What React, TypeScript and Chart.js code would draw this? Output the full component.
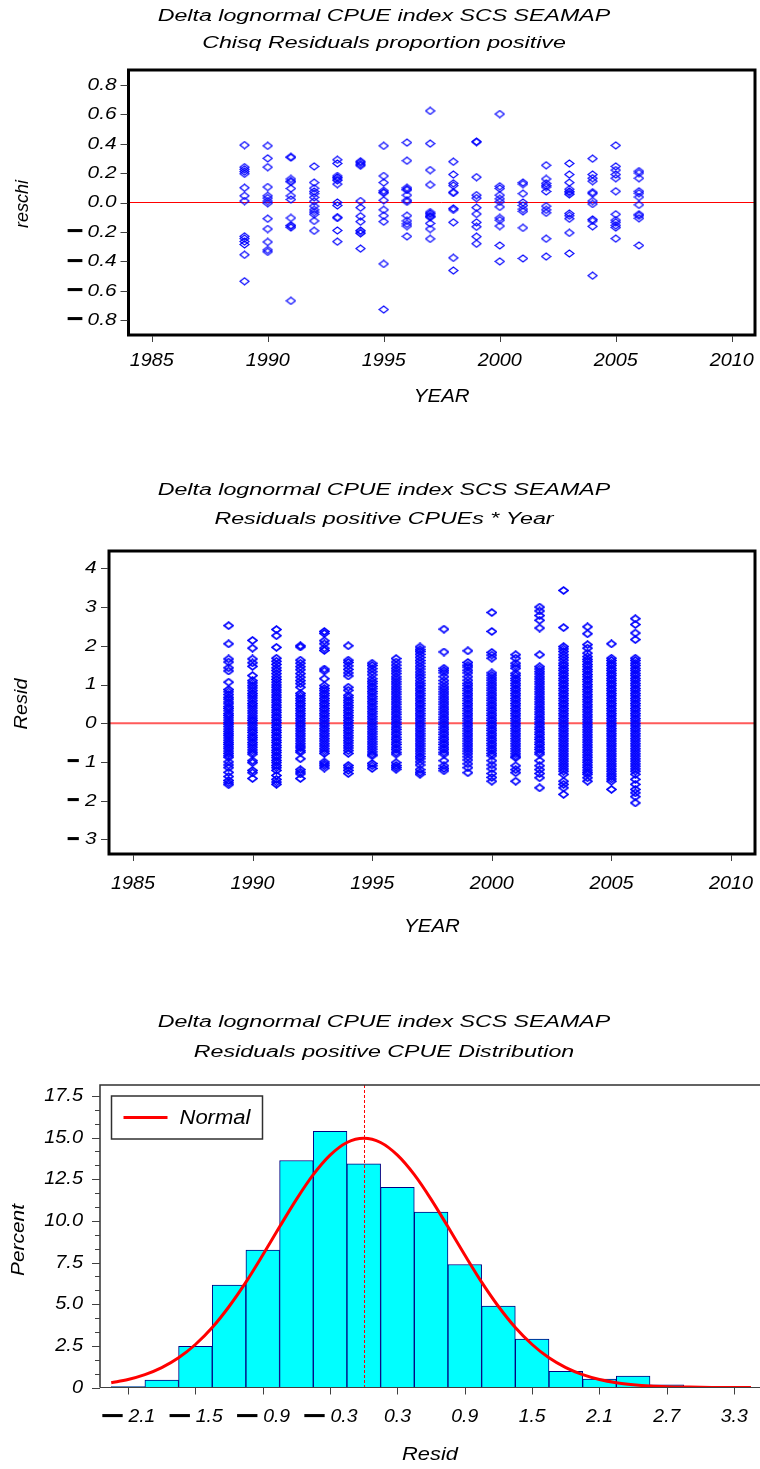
import React, { useEffect, useRef } from "react";
import { Chart, registerables } from "chart.js";

Chart.register(...registerables);

const FONT = '"Liberation Sans", Arial, Helvetica, sans-serif';
const MINUS = "\u2212";

// ---------------- DATA ----------------
const years = [1989, 1990, 1991, 1992, 1993, 1994, 1995, 1996, 1997, 1998, 1999, 2000, 2001, 2002, 2003, 2004, 2005, 2006];
const yearTicks = [1985, 1990, 1995, 2000, 2005, 2010];

// Chisq residuals, proportion positive (one array per year)
const chisq1989 = [0.39, 0.24, 0.225, 0.21, 0.195, 0.1, 0.045, 0.01, -0.23, -0.245, -0.265, -0.285, -0.355, -0.535];
const chisq1990 = [0.385, 0.3, 0.24, 0.105, 0.045, 0.03, 0.01, -0.005, -0.11, -0.18, -0.268, -0.322, -0.335];
const chisq1991 = [0.31, 0.305, 0.16, 0.145, 0.14, 0.095, 0.045, 0.02, -0.105, -0.155, -0.16, -0.17, -0.668];
const chisq1992 = [0.245, 0.135, 0.097, 0.075, 0.06, 0.035, 0.008, -0.025, -0.05, -0.065, -0.08, -0.125, -0.192];
const chisq1993 = [0.29, 0.265, 0.18, 0.17, 0.16, 0.15, 0.125, 0.0, -0.02, -0.1, -0.105, -0.19, -0.266];
const chisq1994 = [0.28, 0.27, 0.26, 0.25, 0.01, -0.035, -0.093, -0.13, -0.19, -0.2, -0.21, -0.313];
const chisq1995 = [0.385, 0.18, 0.135, 0.08, 0.07, 0.065, 0.015, -0.05, -0.09, -0.13, -0.417, -0.727];
const chisq1996 = [0.407, 0.284, 0.1, 0.09, 0.085, 0.05, 0.015, 0.005, -0.09, -0.125, -0.145, -0.16, -0.23];
const chisq1997 = [0.622, 0.4, 0.22, 0.12, -0.065, -0.075, -0.085, -0.095, -0.1, -0.142, -0.18, -0.247];
const chisq1998 = [0.277, 0.19, 0.13, 0.115, 0.07, 0.065, -0.04, -0.05, -0.135, -0.376, -0.462];
const chisq1999 = [0.414, 0.41, 0.172, 0.05, 0.03, -0.035, -0.078, -0.135, -0.165, -0.232, -0.28];
const chisq2000 = [0.601, 0.11, 0.095, 0.05, 0.025, 0.005, -0.03, -0.105, -0.12, -0.16, -0.292, -0.4];
const chisq2001 = [0.135, 0.125, 0.06, 0.0, -0.02, -0.045, -0.06, -0.172, -0.38];
const chisq2002 = [0.253, 0.16, 0.13, 0.115, 0.105, 0.075, -0.025, -0.05, -0.07, -0.246, -0.367];
const chisq2003 = [0.265, 0.19, 0.135, 0.09, 0.075, 0.065, 0.055, -0.075, -0.09, -0.11, -0.206, -0.346];
const chisq2004 = [0.298, 0.19, 0.165, 0.145, 0.07, 0.06, 0.01, -0.01, -0.115, -0.125, -0.162, -0.497];
const chisq2005 = [0.388, 0.245, 0.22, 0.19, 0.165, 0.076, -0.08, -0.12, -0.135, -0.155, -0.17, -0.245];
const chisq2006 = [0.213, 0.2, 0.165, 0.076, 0.063, 0.037, -0.016, -0.08, -0.09, -0.107, -0.292];
const chisqColumns = [chisq1989, chisq1990, chisq1991, chisq1992, chisq1993, chisq1994, chisq1995, chisq1996, chisq1997,
  chisq1998, chisq1999, chisq2000, chisq2001, chisq2002, chisq2003, chisq2004, chisq2005, chisq2006];
const chisqTicks = [-0.8, -0.6, -0.4, -0.2, 0, 0.2, 0.4, 0.6, 0.8];

// Residuals of positive CPUEs (one array per year)
const resid1989 = [2.52, 2.05, 1.66, 1.58, 1.43, 1.35, 1.06, 0.87, 0.81, 0.74, 0.67, 0.62, 0.55, 0.5, 0.43, 0.38, 0.32, 0.25, 0.2, 0.14, 0.08, 0.02, -0.03, -0.09, -0.15, -0.21, -0.27, -0.32, -0.38, -0.44, -0.5, -0.55, -0.61, -0.66, -0.72, -0.78, -0.84, -0.88, -1.0, -1.08, -1.15, -1.27, -1.38, -1.48, -1.54, -1.59];
const resid1990 = [2.14, 1.94, 1.66, 1.56, 1.47, 1.23, 1.1, 1.04, 0.97, 0.91, 0.84, 0.77, 0.71, 0.65, 0.58, 0.51, 0.45, 0.39, 0.32, 0.26, 0.19, 0.13, 0.07, 0.01, -0.05, -0.12, -0.18, -0.24, -0.31, -0.37, -0.43, -0.5, -0.56, -0.62, -0.69, -0.75, -0.8, -0.97, -1.02, -1.22, -1.28, -1.43];
const resid1991 = [2.42, 2.26, 1.96, 1.68, 1.6, 1.52, 1.43, 1.36, 1.28, 1.2, 1.13, 1.06, 0.99, 0.93, 0.86, 0.8, 0.73, 0.67, 0.6, 0.54, 0.47, 0.41, 0.34, 0.28, 0.21, 0.15, 0.08, 0.02, -0.05, -0.11, -0.18, -0.24, -0.31, -0.37, -0.44, -0.5, -0.57, -0.63, -0.7, -0.76, -0.83, -0.89, -0.96, -1.02, -1.09, -1.15, -1.22, -1.35, -1.45, -1.52, -1.58];
const resid1992 = [2.0, 1.97, 1.63, 1.55, 1.46, 1.38, 1.28, 1.19, 1.1, 1.02, 0.93, 0.77, 0.71, 0.64, 0.58, 0.51, 0.45, 0.38, 0.32, 0.25, 0.19, 0.12, 0.06, -0.01, -0.07, -0.14, -0.2, -0.27, -0.33, -0.4, -0.46, -0.53, -0.59, -0.64, -0.71, -0.75, -0.92, -1.2, -1.26, -1.31, -1.43];
const resid1993 = [2.37, 2.32, 2.13, 2.05, 1.94, 1.88, 1.4, 1.35, 1.15, 0.97, 0.9, 0.84, 0.77, 0.71, 0.64, 0.58, 0.51, 0.45, 0.38, 0.32, 0.25, 0.19, 0.12, 0.06, -0.01, -0.07, -0.14, -0.2, -0.27, -0.33, -0.4, -0.46, -0.53, -0.59, -0.66, -0.72, -0.78, -1.0, -1.05, -1.1, -1.16];
const resid1994 = [2.0, 1.63, 1.57, 1.48, 1.39, 1.3, 1.22, 0.93, 0.85, 0.72, 0.66, 0.59, 0.53, 0.46, 0.4, 0.33, 0.27, 0.2, 0.14, 0.07, 0.01, -0.06, -0.12, -0.19, -0.25, -0.32, -0.38, -0.45, -0.51, -0.58, -0.64, -0.71, -0.78, -1.09, -1.15, -1.22, -1.3];
const resid1995 = [1.55, 1.49, 1.41, 1.33, 1.25, 1.15, 1.08, 1.02, 0.95, 0.89, 0.82, 0.76, 0.69, 0.63, 0.56, 0.5, 0.43, 0.37, 0.3, 0.24, 0.17, 0.11, 0.04, -0.02, -0.09, -0.15, -0.22, -0.28, -0.35, -0.41, -0.48, -0.54, -0.61, -0.67, -0.74, -0.8, -0.84, -1.04, -1.1, -1.17];
const resid1996 = [1.67, 1.58, 1.5, 1.42, 1.35, 1.28, 1.2, 1.14, 1.07, 1.01, 0.94, 0.88, 0.81, 0.75, 0.68, 0.62, 0.55, 0.49, 0.42, 0.36, 0.29, 0.23, 0.16, 0.1, 0.03, -0.03, -0.1, -0.16, -0.23, -0.29, -0.36, -0.42, -0.49, -0.55, -0.62, -0.68, -0.75, -0.8, -1.02, -1.09, -1.14, -1.19];
const resid1997 = [1.97, 1.9, 1.85, 1.78, 1.7, 1.62, 1.55, 1.47, 1.4, 1.32, 1.25, 1.18, 1.1, 1.03, 0.97, 0.9, 0.84, 0.77, 0.71, 0.64, 0.58, 0.51, 0.45, 0.38, 0.32, 0.25, 0.19, 0.12, 0.06, -0.01, -0.07, -0.14, -0.2, -0.27, -0.33, -0.4, -0.46, -0.53, -0.59, -0.66, -0.72, -0.79, -0.86, -0.92, -1.0, -1.08, -1.2, -1.27, -1.32];
const resid1998 = [2.43, 1.84, 1.42, 1.36, 1.3, 1.2, 1.1, 1.02, 0.94, 0.88, 0.81, 0.75, 0.68, 0.62, 0.55, 0.49, 0.42, 0.36, 0.29, 0.23, 0.16, 0.1, 0.03, -0.03, -0.1, -0.16, -0.23, -0.29, -0.36, -0.42, -0.49, -0.55, -0.62, -0.68, -0.75, -0.8, -0.97, -1.1, -1.17, -1.23];
const resid1999 = [1.87, 1.57, 1.5, 1.45, 1.37, 1.3, 1.2, 1.11, 1.03, 0.97, 0.9, 0.84, 0.77, 0.71, 0.64, 0.58, 0.51, 0.45, 0.38, 0.32, 0.25, 0.19, 0.12, 0.06, -0.01, -0.07, -0.14, -0.2, -0.27, -0.33, -0.4, -0.46, -0.53, -0.59, -0.66, -0.72, -0.79, -0.87, -0.95, -1.05, -1.15, -1.28];
const resid2000 = [2.86, 2.37, 1.83, 1.76, 1.68, 1.3, 1.24, 1.17, 1.11, 1.04, 0.98, 0.91, 0.85, 0.78, 0.72, 0.65, 0.59, 0.52, 0.46, 0.39, 0.33, 0.26, 0.2, 0.13, 0.07, 0.0, -0.06, -0.13, -0.19, -0.26, -0.32, -0.39, -0.45, -0.52, -0.58, -0.65, -0.71, -0.78, -0.84, -0.97, -1.08, -1.18, -1.3, -1.4, -1.5];
const resid2001 = [1.77, 1.68, 1.55, 1.48, 1.42, 1.29, 1.23, 1.16, 1.1, 1.03, 0.97, 0.9, 0.84, 0.77, 0.71, 0.64, 0.58, 0.51, 0.45, 0.38, 0.32, 0.25, 0.19, 0.12, 0.06, -0.01, -0.07, -0.14, -0.2, -0.27, -0.33, -0.4, -0.46, -0.53, -0.59, -0.66, -0.72, -0.79, -0.85, -0.89, -1.1, -1.2, -1.28, -1.5];
const resid2002 = [3.0, 2.9, 2.78, 2.66, 2.46, 1.77, 1.46, 1.4, 1.33, 1.27, 1.2, 1.14, 1.07, 1.01, 0.94, 0.88, 0.81, 0.75, 0.68, 0.62, 0.55, 0.49, 0.42, 0.36, 0.29, 0.23, 0.16, 0.1, 0.03, -0.03, -0.1, -0.16, -0.23, -0.29, -0.36, -0.42, -0.49, -0.55, -0.62, -0.68, -0.75, -0.8, -0.97, -1.1, -1.2, -1.3, -1.41, -1.67];
const resid2003 = [3.43, 2.47, 1.98, 1.92, 1.85, 1.77, 1.7, 1.63, 1.55, 1.49, 1.42, 1.36, 1.29, 1.23, 1.16, 1.1, 1.03, 0.97, 0.9, 0.84, 0.77, 0.71, 0.64, 0.58, 0.51, 0.45, 0.38, 0.32, 0.25, 0.19, 0.12, 0.06, -0.01, -0.07, -0.14, -0.2, -0.27, -0.33, -0.4, -0.46, -0.53, -0.59, -0.66, -0.72, -0.79, -0.85, -0.92, -0.98, -1.05, -1.11, -1.18, -1.24, -1.32, -1.5, -1.58, -1.67, -1.84];
const resid2004 = [2.49, 2.31, 2.03, 1.94, 1.81, 1.72, 1.65, 1.59, 1.52, 1.46, 1.39, 1.33, 1.26, 1.2, 1.13, 1.07, 1.0, 0.94, 0.87, 0.81, 0.74, 0.68, 0.61, 0.55, 0.48, 0.42, 0.35, 0.29, 0.22, 0.16, 0.09, 0.03, -0.04, -0.1, -0.17, -0.23, -0.3, -0.36, -0.43, -0.49, -0.56, -0.62, -0.69, -0.75, -0.82, -0.88, -0.95, -1.01, -1.08, -1.14, -1.21, -1.27, -1.32, -1.41, -1.5];
const resid2005 = [2.05, 1.68, 1.62, 1.55, 1.49, 1.42, 1.36, 1.29, 1.23, 1.16, 1.1, 1.03, 0.97, 0.9, 0.84, 0.77, 0.71, 0.64, 0.58, 0.51, 0.45, 0.38, 0.32, 0.25, 0.19, 0.12, 0.06, -0.01, -0.07, -0.14, -0.2, -0.27, -0.33, -0.4, -0.46, -0.53, -0.59, -0.66, -0.72, -0.79, -0.85, -0.92, -0.98, -1.05, -1.11, -1.18, -1.24, -1.31, -1.37, -1.44, -1.5, -1.71];
const resid2006 = [2.7, 2.55, 2.33, 2.16, 1.68, 1.62, 1.55, 1.49, 1.42, 1.36, 1.29, 1.23, 1.16, 1.1, 1.03, 0.97, 0.9, 0.84, 0.77, 0.71, 0.64, 0.58, 0.51, 0.45, 0.38, 0.32, 0.25, 0.19, 0.12, 0.06, -0.01, -0.07, -0.14, -0.2, -0.27, -0.33, -0.4, -0.46, -0.53, -0.59, -0.66, -0.72, -0.79, -0.85, -0.92, -0.98, -1.05, -1.11, -1.18, -1.24, -1.32, -1.45, -1.58, -1.71, -1.8, -1.9, -2.06];
const residColumns = [resid1989, resid1990, resid1991, resid1992, resid1993, resid1994, resid1995, resid1996, resid1997,
  resid1998, resid1999, resid2000, resid2001, resid2002, resid2003, resid2004, resid2005, resid2006];
const residTicks = [-3, -2, -1, 0, 1, 2, 3, 4];

// Histogram of residuals (percent per bin of width 0.3)
const binCenters = [-2.1, -1.8, -1.5, -1.2, -0.9, -0.6, -0.3, 0.0, 0.3, 0.6, 0.9, 1.2, 1.5, 1.8, 2.1, 2.4, 2.7, 3.0, 3.3];
const binPercent = [0.06, 0.45, 2.47, 6.14, 8.25, 13.62, 15.37, 13.42, 12.01, 10.52, 7.38, 4.89, 2.9, 0.97, 0.5, 0.68, 0.16, 0, 0];
// Fitted normal curve
const normalX = [-2.25, -2.1, -1.95, -1.8, -1.65, -1.5, -1.35, -1.2, -1.05, -0.9, -0.75, -0.6, -0.45, -0.3, -0.15, 0, 0.15, 0.3, 0.45, 0.6, 0.75, 0.9, 1.05, 1.2, 1.35, 1.5, 1.65, 1.8, 1.95, 2.1, 2.25, 2.4, 2.55, 2.7, 2.85, 3.0, 3.15, 3.3, 3.45];
const normalPct = [0.29, 0.48, 0.77, 1.19, 1.78, 2.58, 3.6, 4.86, 6.32, 7.95, 9.64, 11.29, 12.77, 13.94, 14.7, 14.96, 14.7, 13.94, 12.77, 11.29, 9.64, 7.95, 6.32, 4.86, 3.6, 2.58, 1.78, 1.19, 0.77, 0.48, 0.29, 0.17, 0.09, 0.05, 0.03, 0.01, 0.005, 0, 0];
const normalMean = 0;
const histXTicks = [-2.1, -1.5, -0.9, -0.3, 0.3, 0.9, 1.5, 2.1, 2.7, 3.3];
const histYTicks = [0, 2.5, 5, 7.5, 10, 12.5, 15, 17.5];

const titleMain = "Delta lognormal CPUE index SCS SEAMAP";
const title1b = "Chisq Residuals proportion positive";
const title2b = "Residuals positive CPUEs * Year";
const title3b = "Residuals positive CPUE Distribution";

// ---------------- helpers ----------------
function fmt1(v: number) {
  const s = Math.abs(v).toFixed(1);
  return v < 0 ? MINUS + s : s;
}
function fmtInt(v: number) {
  return v < 0 ? MINUS + String(Math.abs(v)) : String(v);
}
function fmtPct(v: number) {
  return v === 0 ? "0" : v.toFixed(1);
}

function fontStr(size: number, italic = true, bold = false) {
  return `${italic ? "italic " : ""}${bold ? "bold " : ""}${size}px ${FONT}`;
}

function drawText(ctx: CanvasRenderingContext2D, s: string, x: number, y: number, size: number, sx: number,
  align: CanvasTextAlign = "center", rot = false, italic = true, bold = false) {
  ctx.save();
  ctx.translate(x, y);
  if (rot) ctx.rotate(-Math.PI / 2);
  ctx.scale(sx, 1);
  ctx.font = fontStr(size, italic, bold);
  ctx.textAlign = align;
  ctx.textBaseline = "middle";
  ctx.fillStyle = "#000";
  ctx.fillText(s, 0, 0);
  ctx.restore();
}

function textW(ctx: CanvasRenderingContext2D, s: string, size: number, sx: number, italic = true, bold = false) {
  ctx.save();
  ctx.font = fontStr(size, italic, bold);
  const w = ctx.measureText(s).width * sx;
  ctx.restore();
  return w;
}

function drawNum(ctx: CanvasRenderingContext2D, label: string, x: number, y: number, size: number, sx: number,
  align: "right" | "center", minusSx: number, gap: number) {
  const neg = label.startsWith(MINUS);
  const body = neg ? label.slice(1) : label;
  const bw = textW(ctx, body, size, sx);
  const MS = 28;
  const mw = neg ? textW(ctx, MINUS, MS, minusSx, false, true) : 0;
  const total = neg ? mw + gap + bw : bw;
  const right = align === "right" ? x : x + total / 2;
  drawText(ctx, body, right, y, size, sx, "right");
  if (neg) drawText(ctx, MINUS, right - bw - gap, y, MS, minusSx, "right", false, false, true);
}

function makeDiamond(lw: number): HTMLCanvasElement {
  const c = document.createElement("canvas");
  c.width = 11;
  c.height = 9;
  const g = c.getContext("2d")!;
  g.strokeStyle = "#0000ff";
  g.lineWidth = lw;
  g.beginPath();
  g.moveTo(1, 4.5);
  g.lineTo(5.5, 1);
  g.lineTo(10, 4.5);
  g.lineTo(5.5, 8);
  g.closePath();
  g.stroke();
  return c;
}

function columnsToPoints(cols: number[][]) {
  const pts: { x: number; y: number }[] = [];
  cols.forEach((col, i) => col.forEach((v) => pts.push({ x: years[i], y: v })));
  return pts;
}

const hiddenAxis = {
  grid: { display: false },
  ticks: { display: false },
  border: { display: false },
};

type ScatterCfg = {
  titles: string[];
  titleYs: number[];
  yTicks: number[];
  yFmt: (v: number) => string;
  yLabelRight: number;
  minusSx: number;
  minusGap: number;
  xLabelY: number;
  xTitleY: number;
  yTitle: string;
  yTitleX: number;
  yTitleY: number;
  yTitleSx: number;
  zeroColor: string;
  zeroWidth: number;
  markerLw: number;
};

function scatterPlugin(cfg: ScatterCfg) {
  return {
    id: "scatterDecor",
    beforeDatasetsDraw(chart: any) {
      const { ctx, chartArea: a, scales } = chart;
      const y0 = scales.y.getPixelForValue(0);
      ctx.save();
      ctx.strokeStyle = cfg.zeroColor;
      ctx.lineWidth = cfg.zeroWidth;
      ctx.beginPath();
      ctx.moveTo(a.left, y0);
      ctx.lineTo(a.right, y0);
      ctx.stroke();
      ctx.restore();
    },
    afterDraw(chart: any) {
      const { ctx, chartArea: a, scales } = chart;
      ctx.save();
      ctx.strokeStyle = "#000";
      ctx.lineWidth = 3;
      ctx.strokeRect(a.left, a.top, a.right - a.left, a.bottom - a.top);
      ctx.strokeStyle = "#404040";
      ctx.lineWidth = 1;
      for (const v of yearTicks) {
        const px = Math.round(scales.x.getPixelForValue(v)) + 0.5;
        ctx.beginPath();
        ctx.moveTo(px, a.bottom + 1);
        ctx.lineTo(px, a.bottom + 7);
        ctx.stroke();
      }
      for (const v of cfg.yTicks) {
        const py = Math.round(scales.y.getPixelForValue(v)) + 0.5;
        ctx.beginPath();
        ctx.moveTo(a.left - 8, py);
        ctx.lineTo(a.left - 1, py);
        ctx.stroke();
      }
      ctx.restore();
      for (const v of yearTicks) {
        drawText(ctx, String(v), scales.x.getPixelForValue(v), cfg.xLabelY, 18, 1.1, "center");
      }
      for (const v of cfg.yTicks) {
        drawNum(ctx, cfg.yFmt(v), cfg.yLabelRight, scales.y.getPixelForValue(v) + 0.5, 16, 1.3, "right", cfg.minusSx, cfg.minusGap);
      }
      drawText(ctx, "YEAR", (a.left + a.right) / 2, cfg.xTitleY, 19, 1.08, "center");
      drawText(ctx, cfg.yTitle, cfg.yTitleX, cfg.yTitleY, 19, cfg.yTitleSx, "center", true);
      cfg.titles.forEach((t, i) => drawText(ctx, t, 384, cfg.titleYs[i], 16, 1.45, "center"));
    },
  };
}

function scatterConfig(cols: number[][], yMin: number, yMax: number, pad: { top: number; right: number },
  yWidth: number, xHeight: number, cfg: ScatterCfg) {
  return {
    type: "scatter",
    data: {
      datasets: [
        {
          data: columnsToPoints(cols),
          pointStyle: makeDiamond(cfg.markerLw),
          pointRadius: 4,
          pointHoverRadius: 4,
          showLine: false,
        },
      ],
    },
    options: {
      responsive: false,
      animation: false,
      events: [],
      layout: { padding: { left: 0, right: pad.right, top: pad.top, bottom: 0 } },
      plugins: { legend: { display: false }, tooltip: { enabled: false } },
      scales: {
        x: {
          type: "linear",
          min: 1984,
          max: 2011,
          afterFit: (s: any) => { s.height = xHeight; },
          ...hiddenAxis,
        },
        y: {
          type: "linear",
          min: yMin,
          max: yMax,
          afterFit: (s: any) => { s.width = yWidth; },
          ...hiddenAxis,
        },
      },
    },
    plugins: [scatterPlugin(cfg)],
  };
}

const histPlugin = {
  id: "histDecor",
  afterDatasetDraw(chart: any, args: any) {
    if (args.index !== 1) return;
    const { ctx, chartArea: a, scales } = chart;
    const px = Math.round(scales.x.getPixelForValue(normalMean)) + 0.5;
    ctx.save();
    ctx.strokeStyle = "#ff0000";
    ctx.lineWidth = 1;
    ctx.setLineDash([3, 2]);
    ctx.beginPath();
    ctx.moveTo(px, a.top);
    ctx.lineTo(px, a.bottom);
    ctx.stroke();
    ctx.restore();
  },
  afterDraw(chart: any) {
    const { ctx, chartArea: a, scales } = chart;
    ctx.save();
    ctx.strokeStyle = "#303030";
    ctx.lineWidth = 1.5;
    ctx.beginPath();
    ctx.moveTo(a.right, a.top);
    ctx.lineTo(a.left, a.top);
    ctx.lineTo(a.left, a.bottom);
    ctx.stroke();
    ctx.strokeStyle = "#404040";
    ctx.lineWidth = 1;
    ctx.beginPath();
    ctx.moveTo(a.left, Math.round(a.bottom) - 0.5);
    ctx.lineTo(a.right, Math.round(a.bottom) - 0.5);
    ctx.stroke();
    for (const v of histXTicks) {
      const px = Math.round(scales.x.getPixelForValue(v)) + 0.5;
      ctx.beginPath();
      ctx.moveTo(px, a.bottom);
      ctx.lineTo(px, a.bottom + 7);
      ctx.stroke();
    }
    for (let i = 0; i < histYTicks.length; i++) {
      const v = histYTicks[i];
      const py = Math.round(scales.y.getPixelForValue(v)) + 0.5;
      ctx.beginPath();
      ctx.moveTo(a.left - 8, py);
      ctx.lineTo(a.left, py);
      ctx.stroke();
      if (i < histYTicks.length - 1) {
        const step = histYTicks[i + 1] - v;
        for (const f of [1 / 3, 2 / 3]) {
          const pm = Math.round(scales.y.getPixelForValue(v + step * f)) + 0.5;
          ctx.beginPath();
          ctx.moveTo(a.left - 5, pm);
          ctx.lineTo(a.left, pm);
          ctx.stroke();
        }
      }
    }
    ctx.restore();
    for (const v of histXTicks) {
      drawNum(ctx, fmt1(v), scales.x.getPixelForValue(v), 427, 19, 1.02, "center", 1.45, 4);
    }
    for (const v of histYTicks) {
      drawNum(ctx, fmtPct(v), 83, scales.y.getPixelForValue(v), 19, 1.05, "right", 1.2, 4);
    }
    drawText(ctx, "Resid", (a.left + a.right) / 2, 465, 19, 1.15, "center");
    drawText(ctx, "Percent", 19, 250, 19, 1.1, "center", true);
    drawText(ctx, titleMain, 384, 33, 16, 1.45, "center");
    drawText(ctx, title3b, 384, 63, 16, 1.45, "center");
    const lx = a.left + 11.5;
    const ly = a.top + 11;
    ctx.save();
    ctx.fillStyle = "#ffffff";
    ctx.fillRect(lx, ly, 151, 43);
    ctx.strokeStyle = "#303030";
    ctx.lineWidth = 1.5;
    ctx.strokeRect(lx, ly, 151, 43);
    ctx.strokeStyle = "#ff0000";
    ctx.lineWidth = 3;
    ctx.beginPath();
    ctx.moveTo(lx + 12, ly + 21.5);
    ctx.lineTo(lx + 56, ly + 21.5);
    ctx.stroke();
    ctx.restore();
    drawText(ctx, "Normal", lx + 68, ly + 22, 20, 1.1, "left");
  },
};

function histConfig() {
  return {
    type: "bar",
    data: {
      datasets: [
        {
          type: "line",
          data: normalX.map((x, i) => ({ x, y: normalPct[i] })),
          borderColor: "#ff0000",
          borderWidth: 3,
          pointRadius: 0,
          cubicInterpolationMode: "monotone",
          fill: false,
          order: 0,
        },
        {
          type: "bar",
          data: binCenters.map((x, i) => ({ x, y: binPercent[i] })),
          backgroundColor: "#00ffff",
          borderColor: "#000080",
          borderWidth: 1,
          barPercentage: 1,
          categoryPercentage: 1,
          order: 1,
        },
      ],
    },
    options: {
      responsive: false,
      animation: false,
      events: [],
      layout: { padding: { left: 0, right: 0, top: 95, bottom: 0 } },
      plugins: { legend: { display: false }, tooltip: { enabled: false } },
      scales: {
        x: {
          type: "linear",
          min: -2.35,
          max: 3.53,
          offset: false,
          afterFit: (s: any) => { s.height = 81.5; },
          ...hiddenAxis,
        },
        y: {
          type: "linear",
          min: 0,
          max: 18.15,
          afterFit: (s: any) => { s.width = 100; },
          ...hiddenAxis,
        },
      },
    },
    plugins: [histPlugin],
  };
}

function ChartCanvas({ top, height, build }: { top: number; height: number; build: () => any }) {
  const ref = useRef<HTMLCanvasElement | null>(null);
  useEffect(() => {
    const chart = new Chart(ref.current as HTMLCanvasElement, build());
    return () => chart.destroy();
  }, []);
  return (
    <canvas
      ref={ref}
      width={760}
      height={height}
      style={{ position: "absolute", left: 0, top, width: 760, height, display: "block" }}
    />
  );
}

export default function App() {
  return (
    <div style={{ position: "absolute", left: 0, top: 0, width: 760, height: 1469, background: "#fff" }}>
      <ChartCanvas
        top={0}
        height={430}
        build={() =>
          scatterConfig(chisqColumns, -0.9, 0.9, { top: 70, right: 3 }, 128.5, 95, {
            titles: [titleMain, title1b],
            titleYs: [17, 43.5],
            yTicks: chisqTicks,
            yFmt: fmt1,
            yLabelRight: 116.5,
            minusSx: 1.05,
            minusGap: 4,
            xLabelY: 361,
            xTitleY: 397,
            yTitle: "reschi",
            yTitleX: 23,
            yTitleY: 204,
            yTitleSx: 0.95,
            zeroColor: "#ff0000",
            zeroWidth: 1,
            markerLw: 1.15,
          })
        }
      />
      <ChartCanvas
        top={450}
        height={500}
        build={() =>
          scatterConfig(residColumns, -3.38, 4.45, { top: 101, right: 2 }, 109, 96, {
            titles: [titleMain, title2b],
            titleYs: [41, 70],
            yTicks: residTicks,
            yFmt: fmtInt,
            yLabelRight: 96.5,
            minusSx: 0.8,
            minusGap: 5,
            xLabelY: 434,
            xTitleY: 477,
            yTitle: "Resid",
            yTitleX: 22,
            yTitleY: 254,
            yTitleSx: 1.05,
            zeroColor: "#ff5a5a",
            zeroWidth: 2,
            markerLw: 1.6,
          })
        }
      />
      <ChartCanvas top={990} height={479} build={histConfig} />
    </div>
  );
}
